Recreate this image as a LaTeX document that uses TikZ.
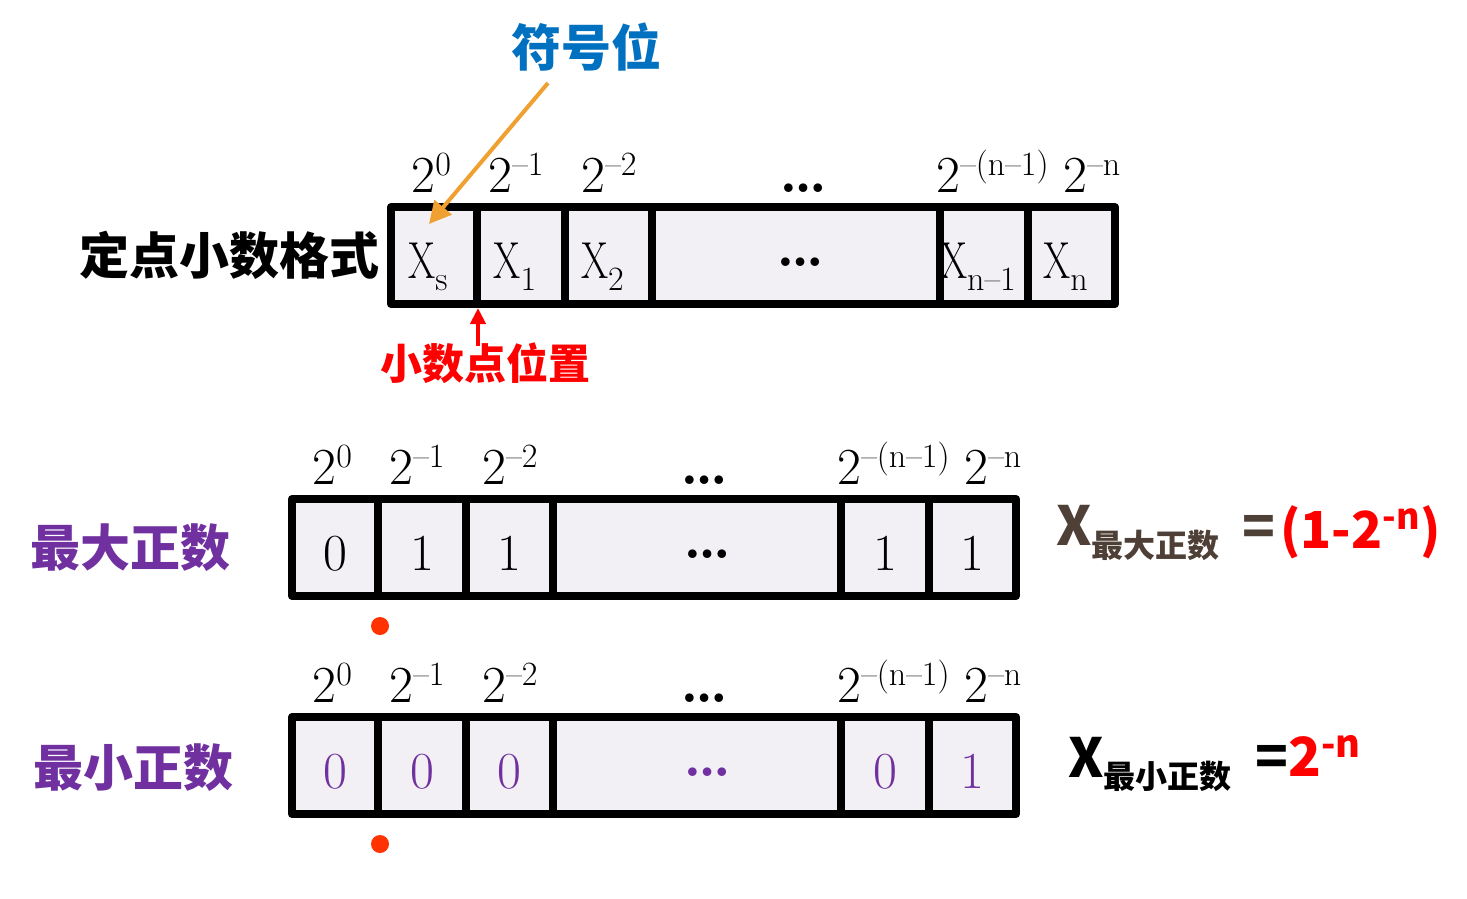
\documentclass[tikz,border=0pt]{standalone}
\usepackage{fontspec}
\newfontfamily\cjk{Noto Sans CJK SC}
\usetikzlibrary{arrows.meta}
\definecolor{cellgray}{HTML}{F2F0F4}
\definecolor{signblue}{HTML}{0070C0}
\definecolor{signorange}{HTML}{F0A030}
\definecolor{pointred}{HTML}{FF0000}
\definecolor{numpurple}{HTML}{7030A0}
\definecolor{xbrown}{HTML}{4E4036}
\definecolor{dotred}{HTML}{FF3300}
\newcommand\wdots{{\fontsize{30}{30}\selectfont\bfseries\ldots}}
\newcommand\celldots{\hspace{11pt}\raisebox{5.8pt}{\wdots}}
\newcommand\wsup[1]{\raisebox{8.5pt}{\fontsize{17}{20}\selectfont #1}}
\newcommand\wsub[1]{\raisebox{-6pt}{\fontsize{17}{20}\selectfont #1}}
\newcommand\cx{\scalebox{0.75}[1]{X}}
\begin{document}
\begin{tikzpicture}[x=0.5pt, y=-0.5pt, line join=round,
  cell/.style={draw, line width=4pt, fill=cellgray, minimum height=48.5pt, inner sep=0pt},
  bit/.style={anchor=base, inner sep=0pt, font=\fontsize{26}{30}\selectfont},
  wt/.style={anchor=base west, inner sep=0pt, font=\fontsize{26}{30}\selectfont},
  cjkb/.style={inner sep=0pt, font=\cjk\bfseries\fontsize{25}{30}\selectfont},
  fx/.style={anchor=base west, inner sep=0pt, font=\cjk\bfseries\fontsize{27}{30}\selectfont},
  fsub/.style={anchor=base west, inner sep=0pt, font=\cjk\bfseries\fontsize{16}{20}\selectfont}]
\useasboundingbox (0,0) rectangle (1467,899);
% three registers: top format, largest, smallest
\foreach \row/\dx/\dy in {t/99/-292,m/0/0,b/0/218}{
  \begin{scope}[shift={(\dx,\dy)}]
    \foreach \a/\b [count=\i] in {292/378,378/466,466/553,553/841,841/929,929/1016}
      \node[cell, minimum width={(\b-\a)*0.5pt}] (\row\i) at ({(\a+\b)/2},547.5) {};
    \foreach \x/\w [count=\i] in {312/{2\wsup{0}},389/{2\wsup{\textendash1}},482/{2\wsup{\textendash2}},680/\wdots,837/{2\wsup{\textendash(n\textendash1)}},964/{2\wsup{\textendash n}}}
      \node[wt] (\row-w\i) at (\x,484.5) {\w};
  \end{scope}
}
\foreach \t [count=\i] in {\cx\wsub{s},\cx\wsub{1},\cx\wsub{2},\celldots,\cx\wsub{n\textendash1},\cx\wsub{n}}
  \node[bit, xshift=-3pt] (t-x\i) at ([yshift=-11.5pt]t\i.center) {\t};
\foreach \t [count=\i] in {0,1,1,\celldots,1,1}
  \node[bit] (m-x\i) at ([yshift=-11.5pt]m\i.center) {\t};
\foreach \t [count=\i] in {0,0,0,\celldots,0,1}
  \node[bit, text=numpurple] (b-x\i) at ([yshift=-11.5pt]b\i.center) {\t};
% labels
\node[cjkb] (fmt) at (229,255) {定点小数格式};
\node[cjkb, text=signblue] (sign) at (586,47) {符号位};
\node[cjkb, text=pointred, font=\cjk\bfseries\fontsize{21}{25}\selectfont] (point) at (485,363) {小数点位置};
\node[cjkb, text=numpurple] (maxlbl) at (131,548) {最大正数};
\node[cjkb, text=numpurple] (minlbl) at (133,768) {最小正数};
% arrows
\coordinate (signtail) at (548,83);
\coordinate (signtip) at (429,224);
\coordinate (pointtail) at (478,346);
\draw[signorange, line width=2pt, -{Triangle[length=11pt,width=11pt]}] (signtail)--(signtip);
\draw[pointred, line width=2.2pt, -{Triangle[length=8pt,width=7.5pt]}] (pointtail)--(pointtail|-t1.south east);
% binary points
\fill[dotred] ([xshift=-1pt,yshift=-13pt]m1.south east) circle (4.5pt);
\fill[dotred] ([xshift=-1pt,yshift=-13pt]b1.south east) circle (4.5pt);
% values
\node[fx, text=xbrown] (maxX) at (1056,545) {X};
\node[fsub, text=xbrown] (maxS) at (1091,557) {最大正数};
\node[fx, text=xbrown] (maxEq) at (1242,546) {=};
\node[fx, text=pointred, font=\cjk\bfseries\fontsize{25.5}{30}\selectfont] (maxV) at (1280,548) {(1-2\textsuperscript{-n})};
\node[fx] (minX) at (1068,777) {X};
\node[fsub] (minS) at (1103,788) {最小正数};
\node[fx] (minEq) at (1255,776) {=};
\node[fx, text=pointred] (minV) at (1288,776) {2\textsuperscript{-n}};
\end{tikzpicture}
\end{document}
